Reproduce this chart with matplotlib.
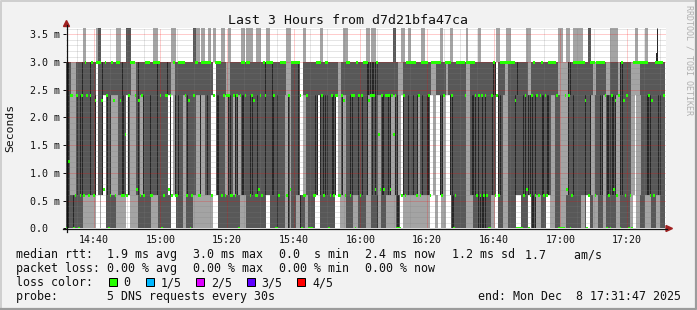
import numpy as np
import matplotlib
matplotlib.use('Agg')
import matplotlib.pyplot as plt
from matplotlib.lines import Line2D
from matplotlib.patches import Rectangle, Polygon
from matplotlib.ticker import FuncFormatter

# one character per 30 s step, one line per 20 minutes
# smoke: W = nothing, L = light, M = medium, D = dark, K = dark spike
band_edges = [0.0, 0.6, 2.4, 3.0, 3.62]   # ms, bottom of each smoke band
spike_top = 3.16

smoke_low = (
    "MDMMDMMMMM" "LLLLLLLLWW" "LWWWMMMMMM" "LLLLLLWWLL" "LLLMMMMMMM" "MLLLLMMMMM"
    "MMMWWWMMMM" "LLMMMMLLLL" "LLLLLLLLWW" "WMMMMMMMMM" "MMMMLLLLMM" "MMMMMMMMMM"
    "WWMMMMDMMM" "MLLDLMMMLL" "DMMLLMMMMW" "WWMMMMMMMM" "MWWWLLLLMM" "MMLLLMMMMM"
    "LLLMMMDLLM" "MMLLLLLLDD" "WWLLLLLLLL" "LLLLLLLLWW" "WLLWWLLLWW" "WDDMMMMMMM"
    "LLLLMMMDDD" "DDMMMLLWWM" "MMLLLMMMMM" "WWWMMMMWWD" "DDLLLMMMWW" "LLLMMMLLLL"
    "MMMMMMMMML" "LMWWMMLLLM" "MMLLMMMMMM" "LLMMMMMMLL" "WWLLMMMLLL" "LMMMLLMMM."
)
smoke_mid = (
    "DDLLLLDMDD" "MMMMDMMDWM" "MDWWDMDLLL" "LMMDDMWDLL" "LLMDLLDMMM" "DMMMDMMMMM"
    "MWDWLDMDMM" "LLDMMMMMLL" "DLLMDMMWWW" "DDMMMLLDDM" "LDDLLDDMMM" "DDMMDMMMMD"
    "MMMDDMDMMM" "MLLDLMMMMD" "WWLLMMMMMD" "DWDMDDDMMD" "DDWLLDLLMM" "DDMMMDMDMM"
    "DLLDMDMLLD" "DMMDDLLDDL" "LWDMMDMMDM" "DLMDMMDDWW" "LLWWDDLLWW" "DDMMMMMMMM"
    "LLMDDDMDMD" "MDMMMDMMWD" "DMLLLMMMMD" "MMMMDDMDDD" "MDMMMDDMDD" "MLLMMMLLLL"
    "LDMMDMMMMM" "MDMMDLLMMM" "DDLLDDDDDD" "LLDDMMMMML" "LWLLLMMMDD" "DMMMMDDMM."
)
smoke_upper = (
    "DDMLLLMMMD" "MMMMDMMMWM" "MDMMMMMMMM" "MMMDMMMMML" "LLMDMMMMMM" "MMMMDMMMMM"
    "DMMLLMMMMM" "MMMMMMMMMM" "MMMMMMMMWW" "MMMMMMLLMM" "MMMMMMMMMM" "MMMMMMMMMD"
    "MMMDMMMMMM" "MMLLLMMMMD" "WWMMMMMMMM" "MMMMMMMMMM" "MMMLLMMMMM" "MMMMMMMMMM"
    "DDDDDDDMMM" "MMMMMMMMML" "LLMMMMMMMM" "MMMMMMMMML" "LLMMMMMMLM" "MMMMMMMMMM"
    "LLMMMMMMMM" "MMMMMMDDWM" "MMMLLMMMMM" "DMMMMMMLLM" "MMMMMMMMMM" "MMMMMLLLLL"
    "LDDMMMMMMM" "MMMMMMLLMM" "MMMMLLMMMM" "MLDDMMMMML" "LLLLMMMMMM" "MMMMMMMMM."
)
smoke_top = (
    "WWWWWWWWWW" "LLWWWWWWLM" "MWWWWWWWWW" "LLLWWWMMMW" "WWWWWWWWWW" "WWLLLWWWWW"
    "WWWLLLWWWW" "WWWWWWMMLL" "WLLWWLLWLL" "WWWLLWWLLW" "WWWWWLLWLL" "LLWWLLLWWW"
    "LLWWWWWWWW" "WWLLLWWWWW" "WWLLWWWWWW" "WWLLWWWWWW" "WWWWWWLLLW" "WWWWWWWWWW"
    "LLWLLLWWWW" "WWWWWWMMWW" "WLLWWLLWWW" "WWWLLWWWWW" "WWWWLLWWWW" "LLWWWWWWWW"
    "LWWWWWWLLW" "WWWWWWWWLL" "WWWWLLLWWW" "WWWWWWLLLW" "WWWWWWWWWW" "WWWWWLLLWW"
    "LLWWLLLLLL" "WWWMMWWWWW" "WWWWWWLLLL" "LWWWWWWWWW" "WLLWWWWLLW" "WWWWKWWWW."
)

# median rtt per step, code -> ms
median_levels = {'0': 0.0, '1': 0.6, '2': 0.7, '3': 1.2, '4': 1.7,
                 '5': 2.3, '6': 2.4, '7': 3.0}
median_code = (
    "0366016016" "1761671577" "7527601751" "7751141677" "7625161777" "1177776016"
    "6261711777" "7615016771" "1777777167" "7771616611" "6160677677" "1651126176"
    "7777600177" "7716277777" "6011600011" "7776177016" "1661165177" "1660761677"
    "7566627426" "2666264600" "0161777777" "1617777617" "7777716777" "7601777776"
    "7777761616" "1610067161" "7777777775" "0000162016" "7161671617" "7777600006"
    "2601777777" "7501777177" "7776010625" "1607516010" "7777777776" "151777776."
)

start = 14 * 60 + 31 + 47 / 60      # 14:31:47, minutes of day
step = 0.5
span = 180

y_ticks = [0.0, 0.5, 1.0, 1.5, 2.0, 2.5, 3.0, 3.5]
loss_labels = ['0', '1/5', '2/5', '3/5', '4/5']
loss_colors = ['#26ff00', '#00b8ff', '#dd00ff', '#5e00ff', '#ff0000']

light, medium, dark = '#a4a4a4', '#585858', '#262626'

W, H = 697, 310
plt.rcParams['font.family'] = 'DejaVu Sans Mono'


def fx(x):
    return x / W


def fy(y):
    return 1 - y / H


fig = plt.figure(figsize=(W / 100, H / 100), dpi=100, facecolor='#f2f2f2')
ax = fig.add_axes([fx(66.3), fy(228.3), 600 / W, 200.6 / H])
ax.set_facecolor('white')
for s in ax.spines.values():
    s.set_visible(False)

t = start + step * np.arange(len(median_code))
layers = [smoke_low, smoke_mid, smoke_upper, smoke_top]
for k, codes in enumerate(layers):
    lo, hi = band_edges[k], band_edges[k + 1]
    codes = np.array(list(codes))
    light_idx = np.where(codes == 'L')[0]
    med_idx = np.where((codes == 'M') | (codes == 'D'))[0]
    dark_idx = np.where(codes == 'D')[0]
    spike_idx = np.where(codes == 'K')[0]
    ax.bar(t[light_idx], hi - lo, bottom=lo, width=step, align='edge',
           color=light, linewidth=0, antialiased=False, zorder=1)
    ax.bar(t[med_idx], hi - lo, bottom=lo, width=step, align='edge',
           color=medium, linewidth=0, antialiased=False, zorder=1)
    # dark cells show up as thin streaks
    ax.bar(t[dark_idx] + step * 0.2, hi - lo, bottom=lo, width=step * 0.6, align='edge',
           color=dark, linewidth=0, antialiased=False, zorder=1.1)
    if len(spike_idx):
        ax.bar(t[spike_idx], spike_top - lo, bottom=lo, width=step, align='edge',
               color=dark, linewidth=0, antialiased=False, zorder=1)
        ax.vlines(t[spike_idx] + step * 0.3, spike_top, hi, color=dark,
                  linewidth=0.72, zorder=1)

m_idx = [j for j, ch in enumerate(median_code) if ch in median_levels]
m_val = np.array([median_levels[median_code[j]] for j in m_idx])
ax.bar(t[m_idx], 0.054, bottom=m_val - 0.027, width=step, align='edge',
       color=loss_colors[0], linewidth=0, antialiased=False, zorder=3)

ax.set_xlim(start, start + span)
ax.set_ylim(0, band_edges[-1])
ax.set_xticks(np.arange(880, start + span, 20))
ax.set_xticks(np.arange(875, start + span, 5), minor=True)
ax.set_yticks(y_ticks)
ax.set_yticks(np.arange(0.1, band_edges[-1], 0.1), minor=True)
ax.xaxis.set_major_formatter(FuncFormatter(lambda v, p: f"{int(v // 60)}:{int(round(v % 60)):02d}"))
ax.yaxis.set_major_formatter(FuncFormatter(lambda v, p: "0.0  " if v == 0 else f"{v:.1f} m"))
ax.set_axisbelow(False)
ax.grid(True, which='major', color='#ff0000', alpha=0.4, linestyle=(0, (1, 1)), linewidth=0.72)
ax.grid(True, which='minor', color='#808080', alpha=0.4, linestyle=(0, (1, 1)), linewidth=0.72)
ax.tick_params(axis='x', which='both', length=0, pad=4.6, labelsize=7.2, labelcolor='#111111')
ax.tick_params(axis='y', which='major', length=2.2, width=0.72, pad=2.0,
               labelsize=7.2, labelcolor='#111111', color='#111111')
ax.tick_params(axis='y', which='minor', length=0)

# axis lines with arrows
axis_col = '#111111'
arrow_col = '#a02020'
fig.add_artist(Line2D([fx(62.5), fx(667)], [fy(228.5), fy(228.5)], color=axis_col, lw=0.9))
fig.add_artist(Line2D([fx(66.5), fx(66.5)], [fy(232), fy(25)], color=axis_col, lw=0.9))
fig.add_artist(Polygon([(fx(666), fy(225.5)), (fx(672.5), fy(228.5)), (fx(666), fy(231.5))],
                       closed=True, color=arrow_col, transform=fig.transFigure))
fig.add_artist(Polygon([(fx(63.5), fy(26.5)), (fx(66.5), fy(20.5)), (fx(69.5), fy(26.5))],
                       closed=True, color=arrow_col, transform=fig.transFigure))

# frame
fig.add_artist(Line2D([fx(1), fx(1), fx(696)], [fy(309), fy(1), fy(1)], color='#cfcfcf', lw=1.4))
fig.add_artist(Line2D([fx(1), fx(696), fx(696)], [fy(309), fy(309), fy(1)], color='#9c9c9c', lw=1.6))

# texts
fig.text(fx(347.5), fy(24.3), "Last 3 Hours from d7d21bfa47ca", ha='center', va='baseline',
         fontsize=9.5, color='#111111')
fig.text(fx(10), fy(128), "Seconds", rotation=90, ha='center', va='center',
         fontsize=8.2, color='#111111')
fig.text(fx(689), fy(5), "RRDTOOL / TOBI OETIKER", rotation=270, ha='center', va='top',
         fontsize=6, color='#b0b0b0')

legend_size = 8.4
rows = [
    (258.3, [(16, "median rtt:  1.9 ms avg"), (193.3, "3.0 ms max"), (279.3, "0.0  s min"),
             (365, "2.4 ms now"), (451.7, "1.2 ms sd"), (525, "1.7    am/s")]),
    (272.2, [(16, "packet loss: 0.00 % avg"), (193.3, "0.00 % max"), (279.3, "0.00 % min"),
             (365, "0.00 % now")]),
    (286.1, [(16, "loss color:")]),
    (300.0, [(16, "probe:       5 DNS requests every 30s"), (478.3, "end: Mon Dec  8 17:31:47 2025")]),
]
for yb, parts in rows:
    for x, s in parts:
        fig.text(fx(x), fy(yb), s, ha='left', va='baseline', fontsize=legend_size, color='#111111')

box_x = [108.7, 145.7, 196.0, 246.7, 297.3]
label_x = [123.3, 160.7, 211.0, 261.7, 312.7]
for bx, lx, lab, col in zip(box_x, label_x, loss_labels, loss_colors):
    fig.add_artist(Rectangle((fx(bx), fy(286.3)), 8 / W, 8 / H, transform=fig.transFigure,
                             facecolor=col, edgecolor='black', linewidth=0.72))
    fig.text(fx(lx), fy(286.1), lab, ha='left', va='baseline', fontsize=legend_size, color='#111111')

fig.savefig('out.png', dpi=100, facecolor=fig.get_facecolor())
